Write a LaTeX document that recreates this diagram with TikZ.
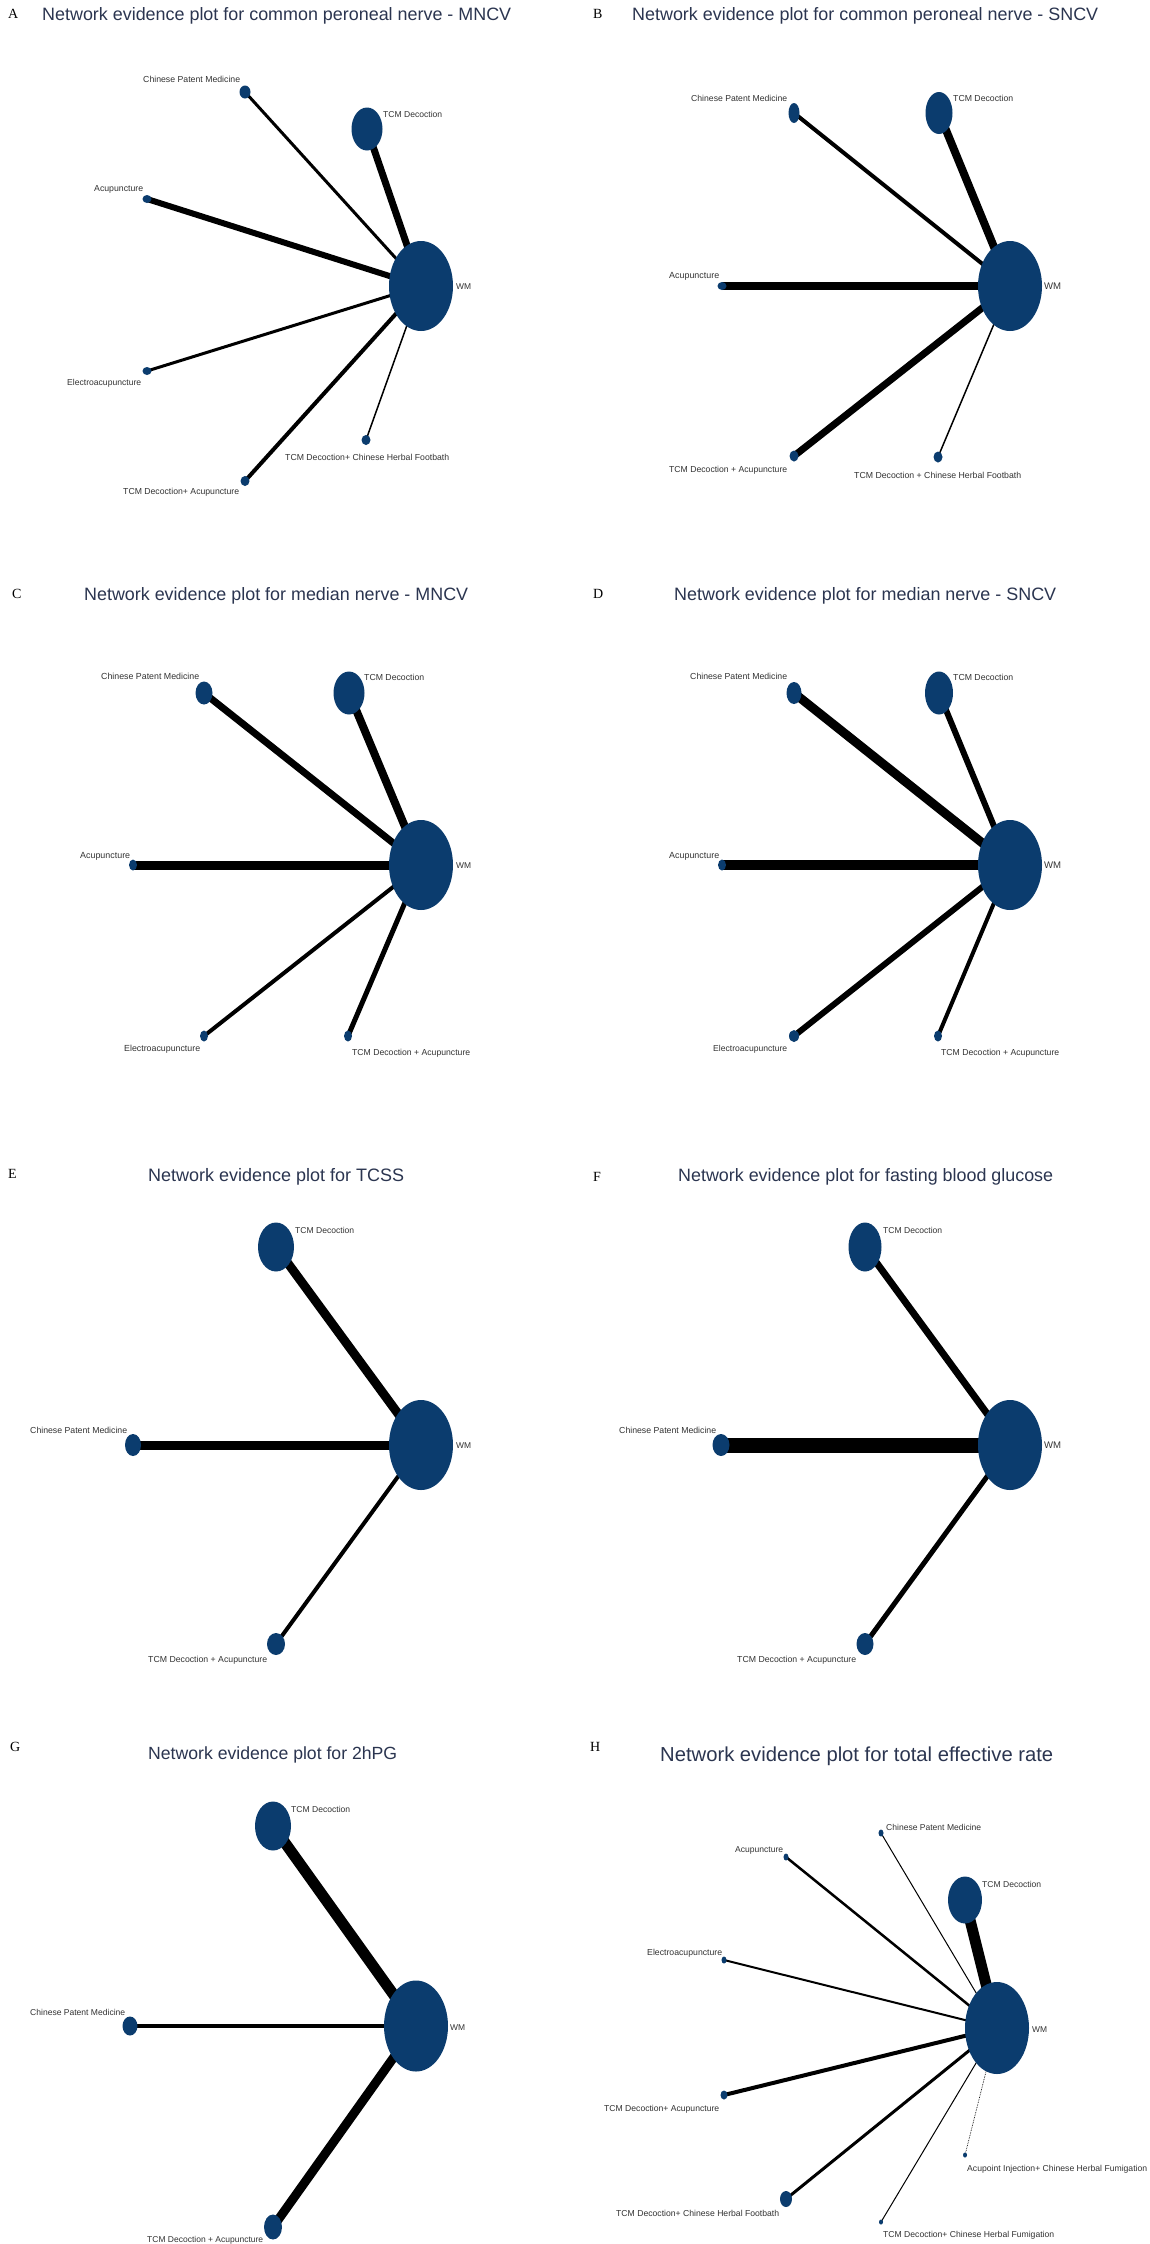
\documentclass[tikz,border=0pt]{standalone}
\usepackage{fontspec}
\setmainfont{Liberation Sans}
\newfontfamily\lserif{Liberation Serif}
\usetikzlibrary{shapes.geometric,backgrounds}
\definecolor{nodeblue}{HTML}{0B3C6E}
\definecolor{titlecol}{HTML}{2B3550}
\definecolor{labcol}{HTML}{333333}
\newcommand\nd[5]{\node[nd,minimum width=#4pt,minimum height=#5pt] (#1) at (#2,#3) {};}
\newcommand\lbn[4]{\node[lab] at (#1,#2) {\resizebox{#3pt}{!}{#4}};}
\newcommand\ttn[4]{\node[ttlst] at (#1,#2) {\resizebox{#3pt}{!}{#4}};}
\newcommand\pl[3]{\node[anchor=base west,inner sep=0] at (#1,#2) {\fontsize{14}{14}\selectfont\lserif #3};}
\newcommand\ed[3]{\draw[line width=#3pt] (#1.center) -- (#2.center);}
\tikzset{
  nd/.style={ellipse,fill=nodeblue,inner sep=0,draw=none},
  lab/.style={anchor=base west,inner sep=0,text=labcol},
  ttlst/.style={anchor=base west,inner sep=0,text=titlecol},
}
\begin{document}
\begin{tikzpicture}[x=1pt,y=-1pt]
\useasboundingbox (0,0) rectangle (1149,2244);
\begin{scope}[on background layer]
\fill[white] (0,0) rectangle (1149,2244);
\end{scope}
% ---------- A
\pl{8}{18}{A}
\ttn{42}{20}{469}{Network evidence plot for common peroneal nerve - MNCV}
\nd{WMa}{421}{286}{64}{90}
\nd{TCMa}{367}{129}{31}{43}
\nd{CPMa}{245}{92}{11}{13}
\nd{Acua}{147}{199}{9}{8}
\nd{Ela}{147}{371}{9}{8}
\nd{Fba}{366}{440}{9}{10}
\nd{TAa}{245}{481}{9}{10}
\begin{scope}[on background layer]
\ed{WMa}{TCMa}{7}\ed{WMa}{CPMa}{3}\ed{WMa}{Acua}{6}\ed{WMa}{Ela}{3}\ed{WMa}{TAa}{4}\ed{WMa}{Fba}{1.5}
\end{scope}
\lbn{143}{82}{97}{Chinese Patent Medicine}
\lbn{383}{117}{59}{TCM Decoction}
\lbn{94}{191}{49}{Acupuncture}
\lbn{67}{385}{74}{Electroacupuncture}
\lbn{456}{289}{15}{WM}
\lbn{285}{460}{164}{TCM Decoction+ Chinese Herbal Footbath}
\lbn{123}{494}{116}{TCM Decoction+ Acupuncture}
% ---------- B
\pl{593}{18}{B}
\ttn{632}{20}{466}{Network evidence plot for common peroneal nerve - SNCV}
\nd{WMb}{1010}{286}{64}{90}
\nd{TCMb}{939}{113}{27}{42}
\nd{CPMb}{794}{113}{11}{20}
\nd{Acub}{722}{286}{9}{8}
\nd{TAb}{794}{456}{9}{11}
\nd{Fbb}{938}{457}{9}{11}
\begin{scope}[on background layer]
\ed{WMb}{TCMb}{8}\ed{WMb}{CPMb}{4}\ed{WMb}{Acub}{8}\ed{WMb}{TAb}{7}\ed{WMb}{Fbb}{1.5}
\end{scope}
\lbn{691}{101}{96}{Chinese Patent Medicine}
\lbn{953}{101}{60}{TCM Decoction}
\lbn{669}{278}{50}{Acupuncture}
\lbn{1044}{289}{17}{WM}
\lbn{669}{472}{118}{TCM Decoction + Acupuncture}
\lbn{854}{478}{167}{TCM Decoction + Chinese Herbal Footbath}
% ---------- C
\pl{12}{598}{C}
\ttn{84}{600}{384}{Network evidence plot for median nerve - MNCV}
\nd{WMc}{421}{865}{64}{90}
\nd{TCMc}{349}{693}{31}{43}
\nd{CPMc}{204}{693}{17}{23}
\nd{Acuc}{133}{865}{8}{11}
\nd{Elc}{204}{1036}{8}{11}
\nd{TAc}{348}{1036}{8}{11}
\begin{scope}[on background layer]
\ed{WMc}{TCMc}{8}\ed{WMc}{CPMc}{7}\ed{WMc}{Acuc}{9}\ed{WMc}{Elc}{4}\ed{WMc}{TAc}{5}
\end{scope}
\lbn{101}{679}{98}{Chinese Patent Medicine}
\lbn{364}{680}{60}{TCM Decoction}
\lbn{80}{858}{50}{Acupuncture}
\lbn{456}{868}{15}{WM}
\lbn{124}{1051}{76}{Electroacupuncture}
\lbn{352}{1055}{118}{TCM Decoction + Acupuncture}
% ---------- D
\pl{593}{598}{D}
\ttn{674}{600}{382}{Network evidence plot for median nerve - SNCV}
\nd{WMd}{1010}{865}{64}{90}
\nd{TCMd}{939}{693}{28}{43}
\nd{CPMd}{794}{693}{15}{22}
\nd{Acud}{722}{865}{8}{11}
\nd{Eld}{794}{1036}{10}{12}
\nd{TAd}{938}{1036}{8}{11}
\begin{scope}[on background layer]
\ed{WMd}{TCMd}{6}\ed{WMd}{CPMd}{9}\ed{WMd}{Acud}{10}\ed{WMd}{Eld}{6}\ed{WMd}{TAd}{4}
\end{scope}
\lbn{690}{679}{97}{Chinese Patent Medicine}
\lbn{953}{680}{60}{TCM Decoction}
\lbn{669}{858}{50}{Acupuncture}
\lbn{1044}{868}{17}{WM}
\lbn{713}{1051}{74}{Electroacupuncture}
\lbn{941}{1055}{118}{TCM Decoction + Acupuncture}
% ---------- E
\pl{8}{1178}{E}
\ttn{148}{1181}{256}{Network evidence plot for TCSS}
\nd{WMe}{421}{1445}{64}{90}
\nd{TCMe}{276}{1247}{36}{49}
\nd{CPMe}{133}{1445}{16}{22}
\nd{TAe}{276}{1644}{18}{22}
\begin{scope}[on background layer]
\ed{WMe}{TCMe}{9}\ed{WMe}{CPMe}{9}\ed{WMe}{TAe}{4}
\end{scope}
\lbn{295}{1233}{59}{TCM Decoction}
\lbn{30}{1433}{97}{Chinese Patent Medicine}
\lbn{456}{1448}{15}{WM}
\lbn{148}{1662}{119}{TCM Decoction + Acupuncture}
% ---------- F
\pl{593}{1181}{F}
\ttn{678}{1181}{375}{Network evidence plot for fasting blood glucose}
\nd{WMf}{1010}{1445}{64}{90}
\nd{TCMf}{865}{1247}{33}{49}
\nd{CPMf}{721}{1445}{17}{22}
\nd{TAf}{865}{1644}{17}{22}
\begin{scope}[on background layer]
\ed{WMf}{TCMf}{7}\ed{WMf}{CPMf}{15}\ed{WMf}{TAf}{5}
\end{scope}
\lbn{883}{1233}{59}{TCM Decoction}
\lbn{619}{1433}{97}{Chinese Patent Medicine}
\lbn{1044}{1448}{17}{WM}
\lbn{737}{1662}{119}{TCM Decoction + Acupuncture}
% ---------- G
\pl{10}{1751}{G}
\ttn{148}{1759}{249}{Network evidence plot for 2hPG}
\nd{WMg}{416}{2026}{64}{91}
\nd{TCMg}{273}{1826}{36}{49}
\nd{CPMg}{130}{2026}{15}{19}
\nd{TAg}{273}{2227}{18}{25}
\begin{scope}[on background layer]
\ed{WMg}{TCMg}{11}\ed{WMg}{CPMg}{4.5}\ed{WMg}{TAg}{9}
\end{scope}
\lbn{291}{1812}{59}{TCM Decoction}
\lbn{30}{2015}{95}{Chinese Patent Medicine}
\lbn{450}{2030}{15}{WM}
\lbn{147}{2242}{116}{TCM Decoction + Acupuncture}
% ---------- H
\pl{590}{1751}{H}
\ttn{660}{1761}{393}{Network evidence plot for total effective rate}
\nd{WMh}{997}{2028}{64}{92}
\nd{TCMh}{965}{1900}{34}{47}
\nd{CPMh}{881}{1833}{5}{7}
\nd{Acuh}{786}{1857}{5}{7}
\nd{Elh}{724}{1960}{5}{7}
\nd{TAh}{724}{2095}{7}{9}
\nd{Fbh}{786}{2199}{12}{16}
\nd{Fumh}{881}{2222}{4}{5}
\nd{Acph}{965}{2155}{4}{5}
\begin{scope}[on background layer]
\ed{WMh}{TCMh}{11}\ed{WMh}{Acuh}{2.5}\ed{WMh}{CPMh}{1}\ed{WMh}{Elh}{2}\ed{WMh}{TAh}{4}\ed{WMh}{Fbh}{3}\ed{WMh}{Fumh}{1}
\draw[line width=0.7pt,densely dotted] (WMh.center) -- (Acph.center);
\end{scope}
\lbn{886}{1830}{95}{Chinese Patent Medicine}
\lbn{735}{1852}{48}{Acupuncture}
\lbn{982}{1887}{59}{TCM Decoction}
\lbn{647}{1955}{75}{Electroacupuncture}
\lbn{1032}{2032}{15}{WM}
\lbn{604}{2111}{115}{TCM Decoction+ Acupuncture}
\lbn{616}{2216}{163}{TCM Decoction+ Chinese Herbal Footbath}
\lbn{883}{2237}{171}{TCM Decoction+ Chinese Herbal Fumigation}
\lbn{967}{2171}{180}{Acupoint Injection+ Chinese Herbal Fumigation}
\end{tikzpicture}
\end{document}
